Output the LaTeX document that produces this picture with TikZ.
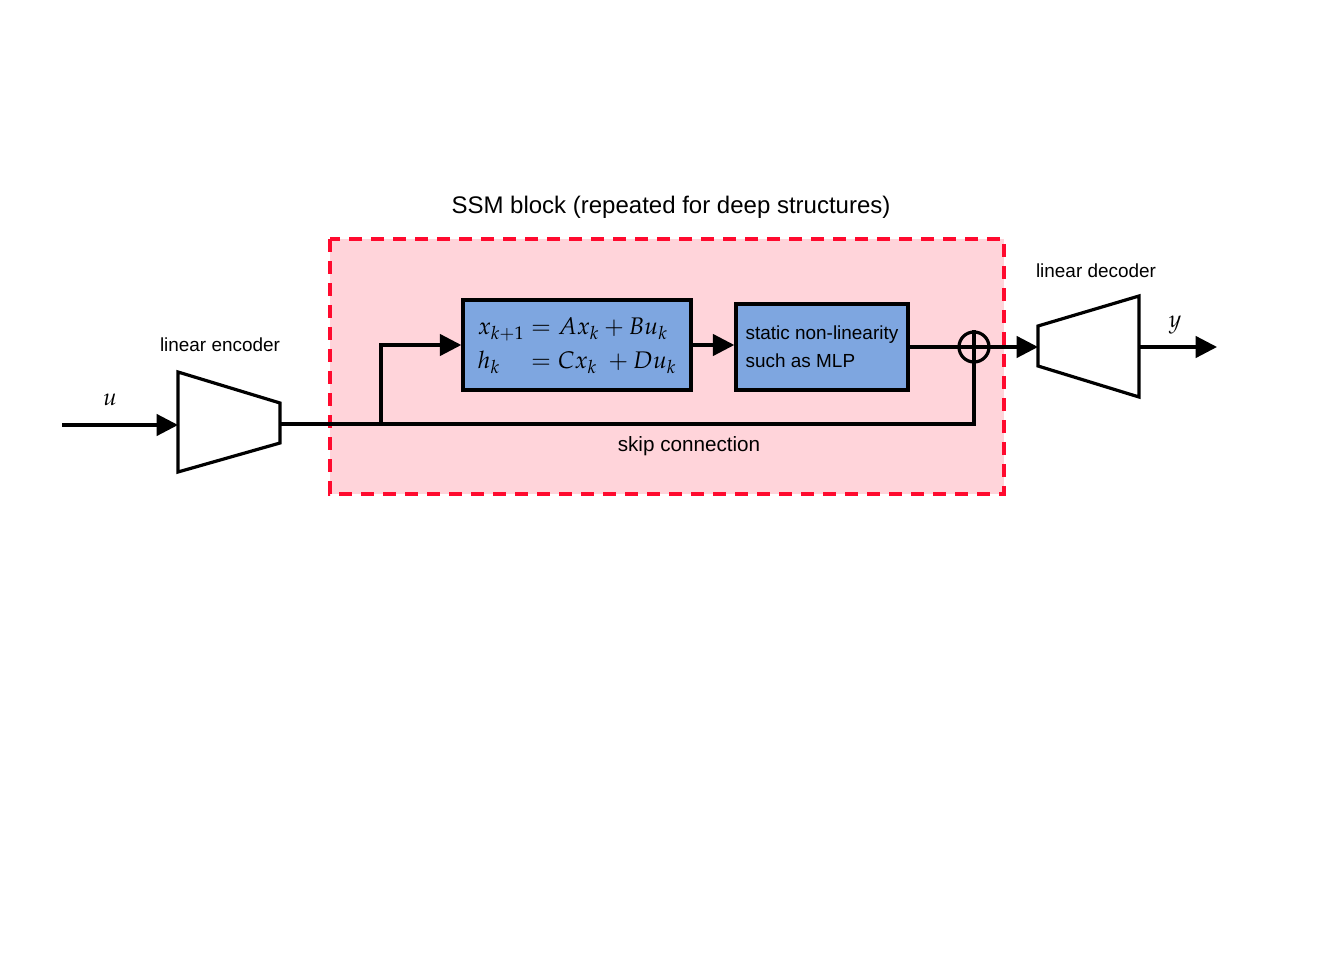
\documentclass[tikz,border=0pt]{standalone}
\usepackage{mathpazo}
\usepackage{fontspec}
\setmainfont{Liberation Sans}
\usepackage{tikz}
\usetikzlibrary{arrows.meta}

\definecolor{ssmpink}{HTML}{FFD4DA}
\definecolor{ssmred}{HTML}{FF0A2E}
\definecolor{blockblue}{HTML}{7EA6E0}

\begin{document}
\begin{tikzpicture}[x=0.75pt,y=-0.75pt,line width=2.4pt,
    >={Triangle[length=16pt,width=16pt]},
    blockbox/.style={draw=black,fill=blockblue,line width=2.6pt,inner sep=0pt},
    lbl/.style={font=\fontsize{14.2}{17}\selectfont}]
               \useasboundingbox (0,0) rectangle (1324,962);
               % SSM block frame
               \filldraw[fill=ssmpink,draw=ssmred,dash pattern=on 9.75pt off 6.75pt](330,239) rectangle (1004,494);
               \node[font=\fontsize{18}{22}\selectfont] (title) at (671,207) {SSM block (repeated for deep structures)};
               % blocks
               \node[blockbox,minimum width=171pt,minimum height=67.5pt,font=\fontsize{18}{22}\selectfont] (ssm) at (577,345)
                   {\renewcommand{\arraystretch}{1.15}$\begin{array}{@{}l@{\;}c@{\;}l@{}} x_{k+1} & = & Ax_k+Bu_k\\ h_k & = & Cx_k\;+Du_k\end{array}$};
               \node[blockbox,minimum width=129pt,minimum height=64.5pt,align=left,lbl] (mlp) at (822,347)
                   {static non-linearity\\[4pt]such as MLP};
               \node[circle,draw=black,minimum size=22.5pt,inner sep=0pt] (sum) at (974,347) {};
               \draw (sum.north) -- (sum.south);
               \draw (sum.west) -- (sum.east);
               % encoder
               \filldraw[fill=white,draw=black](178,372) -- (280,403) -- (280,443) -- (178,472) -- cycle;
               \coordinate (encin) at (178,425);
               \coordinate (encout) at (280,424);
               \node[lbl] (enclbl) at (220,345) {linear encoder};
               % decoder
               \filldraw[fill=white,draw=black](1038,326) -- (1139,296) -- (1139,397) -- (1038,366) -- cycle;
               \coordinate (decin) at (1038,347);
               \coordinate (decout) at (1139,347);
               \node[lbl] (declbl) at (1096,271) {linear decoder};
               % signals
               \coordinate (uin) at (62,425);
               \coordinate (yout) at (1217,347);
               \coordinate (branch) at (381,424);
               \coordinate (skipend) at (974,424);
               \node[font=\fontsize{18}{20}\selectfont] (ulbl) at (110,400) {$u$};
               \node[font=\fontsize{18}{20}\selectfont] (ylbl) at (1175,325) {$y$};
               \draw[->] (uin) -- (encin);
               \draw (encout) -- (skipend) -- (sum.south);
               \draw[->] (branch) |- (ssm.west);
               \draw[->] (ssm.east) -- (ssm.east -| mlp.west);
               \draw (mlp.east) -- (sum.west);
               \draw[->] (sum.east) -- (decin);
               \draw[->] (decout) -- (yout);
               \node[font=\fontsize{15.5}{18}\selectfont] (skiplbl) at (689,446) {skip connection};
           \end{tikzpicture}
\end{document}
